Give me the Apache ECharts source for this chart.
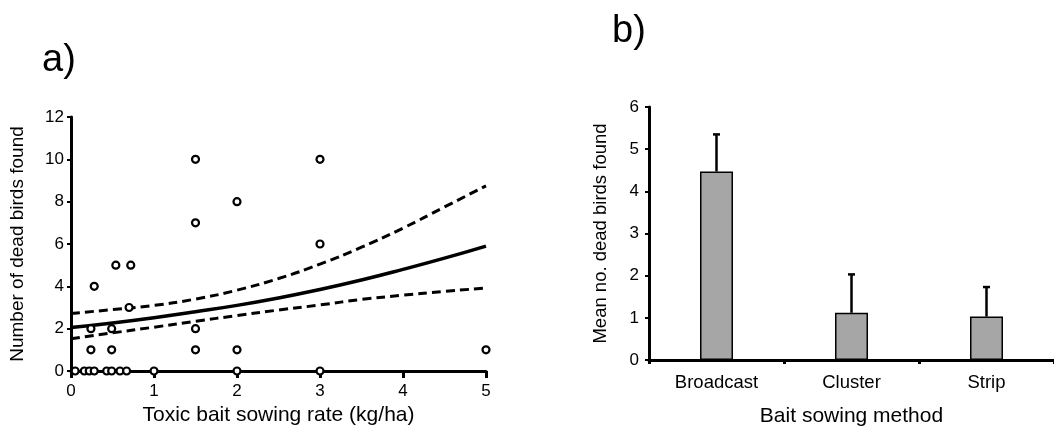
<!DOCTYPE html>
<html>
<head>
<meta charset="utf-8">
<script src="https://cdn.jsdelivr.net/npm/echarts@6/dist/echarts.min.js"></script>
<style>
  html, body { margin: 0; padding: 0; background: #fff; }
  #chart { width: 1054px; height: 432px; }
</style>
</head>
<body>
<div id="chart"></div>
<script>
// panel a) observed counts
var birdPoints = [
  [0.05, 0], [0.16, 0], [0.22, 0], [0.28, 0], [0.43, 0], [0.49, 0], [0.59, 0], [0.67, 0],
  [1, 0], [2, 0], [3, 0],
  [0.24, 1], [0.49, 1], [1.5, 1], [2, 1], [5, 1],
  [0.24, 2], [0.49, 2], [1.5, 2],
  [0.7, 3], [0.28, 4], [0.54, 5], [0.72, 5],
  [3, 6], [1.5, 7], [2, 8], [1.5, 10], [3, 10]
];
// fitted curve and its bounds
var fitX = [0, 0.5, 1, 1.5, 2, 2.5, 3, 3.5, 4, 4.5, 5];
var fitMid = [2.05, 2.27, 2.52, 2.8, 3.1, 3.45, 3.85, 4.3, 4.8, 5.33, 5.9];
var fitUpper = [2.72, 2.9, 3.1, 3.4, 3.82, 4.37, 5.05, 5.85, 6.75, 7.75, 8.75];
var fitLower = [1.52, 1.8, 2.07, 2.35, 2.62, 2.88, 3.12, 3.38, 3.58, 3.76, 3.92];

// panel b) means with upper error
var methods = ['Broadcast', 'Cluster', 'Strip'];
var meanBirds = [4.47, 1.12, 1.03];
var upperBirds = [5.35, 2.03, 1.73];

var font = 'Liberation Sans, Arial, sans-serif';

function pairs(xs, ys) {
  return xs.map(function (x, i) { return [x, ys[i]]; });
}

var axisLine = { show: true, lineStyle: { color: '#000', width: 3 } };

var myChart = echarts.init(document.getElementById('chart'));
myChart.setOption({
  animation: false,
  textStyle: { fontFamily: font, color: '#000' },
  graphic: [
    { type: 'text', left: 42, top: 42, style: { text: 'a)', fontSize: 38, fill: '#000', fontFamily: font } },
    { type: 'text', left: 612, top: 13, style: { text: 'b)', fontSize: 38, fill: '#000', fontFamily: font } }
  ],
  grid: [
    { left: 71, top: 117, width: 415, height: 254 },
    { left: 649, top: 107, width: 405, height: 255 }
  ],
  xAxis: [
    {
      gridIndex: 0, type: 'value', min: 0, max: 5, interval: 1,
      name: 'Toxic bait sowing rate (kg/ha)', nameLocation: 'middle', nameGap: 31,
      nameTextStyle: { fontSize: 21, color: '#000', fontFamily: font },
      axisLine: axisLine,
      axisTick: { show: true, length: 7, lineStyle: { color: '#000', width: 3 } },
      axisLabel: { fontSize: 17, color: '#000', margin: 12 },
      splitLine: { show: false }
    },
    {
      gridIndex: 1, type: 'category', data: methods,
      name: 'Bait sowing method', nameLocation: 'middle', nameGap: 46,
      nameTextStyle: { fontSize: 21, color: '#000', fontFamily: font },
      axisLine: axisLine,
      axisTick: { show: true, length: 4, lineStyle: { color: '#000', width: 3 } },
      axisLabel: { fontSize: 18.5, color: '#000', margin: 13 },
      splitLine: { show: false }
    }
  ],
  yAxis: [
    {
      gridIndex: 0, type: 'value', min: 0, max: 12, interval: 2,
      name: 'Number of dead birds found', nameLocation: 'middle', nameGap: 44,
      nameTextStyle: { fontSize: 19, color: '#000', fontFamily: font },
      axisLine: axisLine,
      axisTick: { show: true, length: 4, lineStyle: { color: '#000', width: 2 } },
      axisLabel: { fontSize: 17, color: '#000', margin: 7 },
      splitLine: { show: false }
    },
    {
      gridIndex: 1, type: 'value', min: 0, max: 6, interval: 1,
      name: 'Mean no. dead birds found', nameLocation: 'middle', nameGap: 39,
      nameTextStyle: { fontSize: 18.5, color: '#000', fontFamily: font },
      axisLine: axisLine,
      axisTick: { show: true, length: 4, lineStyle: { color: '#000', width: 2 } },
      axisLabel: { fontSize: 17, color: '#000', margin: 10 },
      splitLine: { show: false }
    }
  ],
  series: [
    {
      type: 'line', xAxisIndex: 0, yAxisIndex: 0, smooth: true, symbol: 'none',
      data: pairs(fitX, fitUpper),
      lineStyle: { color: '#000', width: 3, type: [9, 5] }
    },
    {
      type: 'line', xAxisIndex: 0, yAxisIndex: 0, smooth: true, symbol: 'none',
      data: pairs(fitX, fitLower),
      lineStyle: { color: '#000', width: 3, type: [9, 5] }
    },
    {
      type: 'line', xAxisIndex: 0, yAxisIndex: 0, smooth: true, symbol: 'none',
      data: pairs(fitX, fitMid),
      lineStyle: { color: '#000', width: 3.5 }
    },
    {
      type: 'scatter', xAxisIndex: 0, yAxisIndex: 0, clip: false, z: 5,
      symbol: 'circle', symbolSize: 7,
      itemStyle: { color: '#fff', borderColor: '#000', borderWidth: 2.2, opacity: 1 },
      data: birdPoints
    },
    {
      type: 'bar', xAxisIndex: 1, yAxisIndex: 1, barWidth: 33,
      itemStyle: { color: '#a6a6a6', borderColor: '#000', borderWidth: 1.5 },
      data: meanBirds
    },
    {
      type: 'custom', xAxisIndex: 1, yAxisIndex: 1, z: 3,
      data: meanBirds.map(function (m, i) { return [i, m, upperBirds[i]]; }),
      encode: { x: 0, y: [1, 2] },
      renderItem: function (params, api) {
        var base = api.coord([api.value(0), api.value(1)]);
        var top = api.coord([api.value(0), api.value(2)]);
        var style = { stroke: '#000', lineWidth: 2.5 };
        return {
          type: 'group',
          children: [
            { type: 'line', shape: { x1: base[0], y1: base[1], x2: top[0], y2: top[1] }, style: style },
            { type: 'line', shape: { x1: top[0] - 3.5, y1: top[1], x2: top[0] + 3.5, y2: top[1] }, style: style }
          ]
        };
      }
    }
  ]
});
</script>
</body>
</html>
